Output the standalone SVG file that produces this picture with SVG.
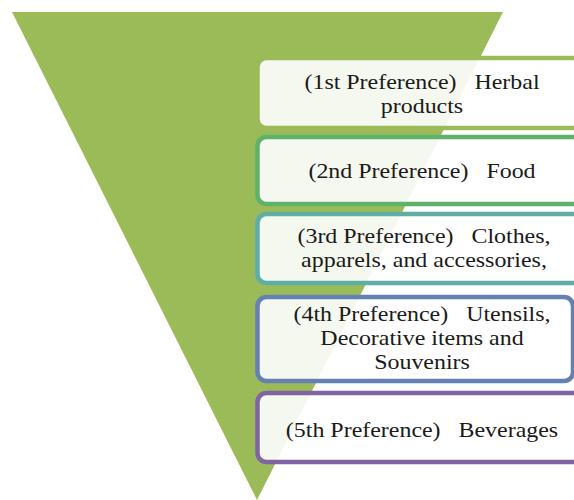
<svg xmlns="http://www.w3.org/2000/svg" width="574" height="500" viewBox="0 0 574 500">
  <style>
    .box { fill: #ffffff; fill-opacity: 0.9; stroke-width: 4.5; }
    .lbl { font-family: "Liberation Serif", "Times New Roman", serif; font-size: 21px; fill: #1a1a1a; text-anchor: middle; white-space: pre; }
  </style>
  <rect width="574" height="500" fill="#ffffff"/>
  <!-- inverted funnel behind the list -->
  <g id="funnel">
    <polygon points="12,12 503,12 257,500" fill="#9bbb59"/>
  </g>
  <g id="connectors"/>
  <g id="pref1">
    <rect class="box" x="257.5" y="58" width="330" height="70" rx="9" stroke="#9bbb59"/>
    <text class="lbl" transform="translate(422 89) scale(1.14 1)">(1st Preference)   Herbal</text>
    <text class="lbl" transform="translate(422 113) scale(1.14 1)">products</text>
  </g>
  <g id="pref2">
    <rect class="box" x="257.5" y="137" width="330" height="67" rx="9" stroke="#5fb26a"/>
    <text class="lbl" transform="translate(422 178) scale(1.14 1)">(2nd Preference)   Food</text>
  </g>
  <g id="pref3">
    <rect class="box" x="257.5" y="214" width="330" height="69" rx="9" stroke="#5eaea6"/>
    <text class="lbl" transform="translate(424 243) scale(1.14 1)">(3rd Preference)   Clothes,</text>
    <text class="lbl" transform="translate(424 267) scale(1.14 1)">apparels, and accessories,</text>
  </g>
  <g id="pref4">
    <rect class="box" x="257.5" y="297" width="315.5" height="84" rx="9" stroke="#6580b3"/>
    <text class="lbl" transform="translate(422 321) scale(1.14 1)">(4th Preference)   Utensils,</text>
    <text class="lbl" transform="translate(422 345) scale(1.14 1)">Decorative items and</text>
    <text class="lbl" transform="translate(422 369) scale(1.14 1)">Souvenirs</text>
  </g>
  <g id="pref5">
    <rect class="box" x="257.5" y="393" width="330" height="69" rx="9" stroke="#8064a2"/>
    <text class="lbl" transform="translate(422 437) scale(1.14 1)">(5th Preference)   Beverages</text>
  </g>
</svg>
